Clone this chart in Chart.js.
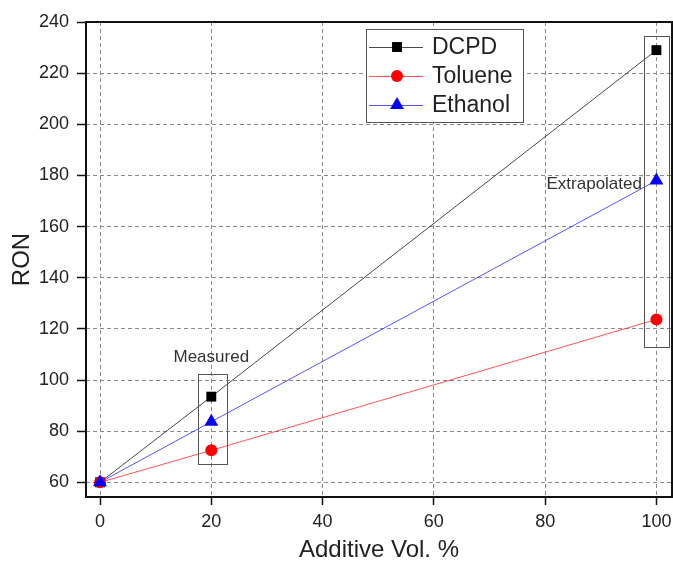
<!DOCTYPE html>
<html lang="en">
<head>
<meta charset="UTF-8">
<title>RON vs Additive Vol. %</title>
<script src="https://cdn.jsdelivr.net/npm/chart.js@4.4.1/dist/chart.umd.min.js"></script>
<style>
  body { margin: 0; background: #fff; }
  #wrap { width: 673px; height: 566px; }
</style>
</head>
<body>
<div id="wrap"><canvas id="ronChart" width="673" height="566"></canvas></div>
<script>
// --- data ---
const additive = [0, 20, 100];
const dcpd = [60, 93.5, 229];
const toluene = [60, 72.5, 123.7];
const ethanol = [60, 83.7, 178];
const xTicks = [0, 20, 40, 60, 80, 100];
const yTicks = [60, 80, 100, 120, 140, 160, 180, 200, 220, 240];

// annotation boxes in data units: [x0, x1, y0, y1]
const measuredBox = [17.6, 22.8, 67.5, 102.5];
const extrapBox = [97.7, 102.2, 112.9, 234.5];

const FONT = "'Liberation Sans', Arial, sans-serif";

const series = [
  { label: 'DCPD', data: dcpd, line: 'rgba(40,40,40,0.85)', fill: '#000', style: 'rect', r: 7 },
  { label: 'Toluene', data: toluene, line: 'rgba(255,40,40,0.8)', fill: '#ff0000', style: 'circle', r: 6 },
  { label: 'Ethanol', data: ethanol, line: 'rgba(40,40,255,0.8)', fill: '#0000ff', style: 'triangle', r: 8 }
];

function marker(ctx, style, x, y, r, color) {
  ctx.save();
  ctx.fillStyle = color;
  ctx.beginPath();
  if (style === 'rect') {
    const s = r * Math.SQRT1_2;
    ctx.rect(x - s, y - s, 2 * s, 2 * s);
  } else if (style === 'circle') {
    ctx.arc(x, y, r, 0, Math.PI * 2);
  } else {
    ctx.moveTo(x, y - r);
    ctx.lineTo(x + r * 0.866, y + r * 0.5);
    ctx.lineTo(x - r * 0.866, y + r * 0.5);
    ctx.closePath();
  }
  ctx.fill();
  ctx.restore();
}

const overlay = {
  id: 'overlay',
  afterDatasetsDraw(chart) {
    const ctx = chart.ctx;
    const xs = chart.scales.x, ys = chart.scales.y;
    const a = chart.chartArea;
    ctx.save();

    // boxes around measured / extrapolated points
    ctx.strokeStyle = '#555';
    ctx.lineWidth = 1;
    [measuredBox, extrapBox].forEach(b => {
      const x0 = xs.getPixelForValue(b[0]), x1 = xs.getPixelForValue(b[1]);
      const y0 = ys.getPixelForValue(b[3]), y1 = ys.getPixelForValue(b[2]);
      ctx.strokeRect(Math.round(x0) + 0.5, Math.round(y0) + 0.5, Math.round(x1 - x0), Math.round(y1 - y0));
    });

    ctx.fillStyle = '#333';
    ctx.font = '17px ' + FONT;
    ctx.textBaseline = 'middle';
    ctx.textAlign = 'center';
    ctx.fillText('Measured', xs.getPixelForValue(20), ys.getPixelForValue(109));
    ctx.textAlign = 'right';
    ctx.fillText('Extrapolated', xs.getPixelForValue(97.4), ys.getPixelForValue(176.5));

    // frame
    ctx.strokeStyle = '#111';
    ctx.lineWidth = 2;
    ctx.strokeRect(a.left, a.top, a.right - a.left, a.bottom - a.top);

    // legend
    const lx = 366, ly = 29, lw = 157, lh = 93;
    ctx.fillStyle = '#fff';
    ctx.fillRect(lx, ly, lw, lh);
    ctx.strokeStyle = '#555';
    ctx.lineWidth = 1;
    ctx.strokeRect(lx + 0.5, ly + 0.5, lw, lh);
    ctx.font = '23px ' + FONT;
    ctx.textAlign = 'left';
    ctx.textBaseline = 'middle';
    series.forEach((s, i) => {
      const y = 47 + i * 29;
      ctx.strokeStyle = s.line;
      ctx.lineWidth = 1;
      ctx.beginPath();
      ctx.moveTo(369, y + 0.5);
      ctx.lineTo(423, y + 0.5);
      ctx.stroke();
      marker(ctx, s.style, 397, y, s.r, s.fill);
      ctx.fillStyle = '#222';
      ctx.fillText(s.label, 432, y + 1);
    });
    ctx.restore();
  }
};

const bgPlugin = {
  id: 'bg',
  beforeDraw(chart) {
    const ctx = chart.ctx;
    ctx.save();
    ctx.fillStyle = '#fff';
    ctx.fillRect(0, 0, chart.width, chart.height);
    ctx.restore();
  }
};

// later series drawn on top (ethanol triangle sits over the shared 0% point)
const datasets = series.map((s, i) => ({
  label: s.label,
  data: additive.map((x, j) => ({ x: x, y: s.data[j] })),
  order: series.length - i,
  borderColor: s.line,
  borderWidth: 1,
  backgroundColor: s.fill,
  pointBackgroundColor: s.fill,
  pointBorderColor: s.fill,
  pointBorderWidth: 0,
  pointStyle: s.style,
  pointRadius: s.r,
  tension: 0,
  showLine: true,
  clip: false
}));

new Chart(document.getElementById('ronChart'), {
  type: 'scatter',
  data: { datasets: datasets },
  options: {
    responsive: false,
    animation: false,
    layout: { autoPadding: false, padding: { top: 22, right: 1, left: 0, bottom: 0 } },
    plugins: { legend: { display: false }, tooltip: { enabled: false } },
    scales: {
      x: {
        type: 'linear',
        min: -2.52,
        max: 102.8,
        afterBuildTicks: s => { s.ticks = xTicks.map(v => ({ value: v })); },
        afterFit: s => { s.height = 69; s.paddingLeft = 0; s.paddingRight = 0; },
        grid: {
          color: '#8a8a8a', lineWidth: 1,
          tickColor: '#111', tickWidth: 1.5, tickLength: 8, tickBorderDash: []
        },
        border: { display: false, dash: [4, 3] },
        ticks: { color: '#222', padding: 6, font: { family: FONT, size: 18 } },
        title: {
          display: true, text: 'Additive Vol. %', color: '#222',
          font: { family: FONT, size: 24 }, padding: { top: 0, bottom: 1 }
        }
      },
      y: {
        type: 'linear',
        min: 54.26,
        max: 240,
        afterBuildTicks: s => { s.ticks = yTicks.map(v => ({ value: v })); },
        afterFit: s => { s.width = 86; s.paddingTop = 0; s.paddingBottom = 0; },
        grid: {
          color: '#8a8a8a', lineWidth: 1,
          tickColor: '#111', tickWidth: 1.5, tickLength: 9, tickBorderDash: []
        },
        border: { display: false, dash: [4, 3] },
        ticks: { color: '#222', padding: 8, font: { family: FONT, size: 18 } },
        title: {
          display: true, text: 'RON', color: '#222',
          font: { family: FONT, size: 24 }, padding: { top: 8, bottom: 0 }
        }
      }
    }
  },
  plugins: [bgPlugin, overlay]
});
</script>
</body>
</html>
